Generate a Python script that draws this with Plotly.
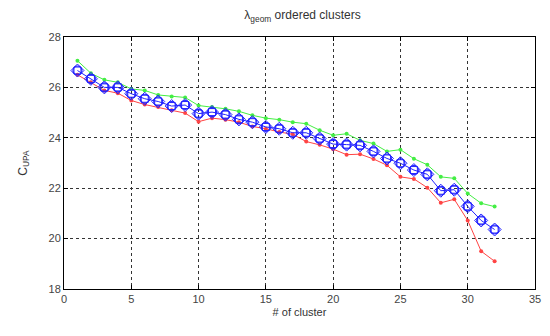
import plotly.graph_objects as go

clusters = list(range(1, 33))
blue_vals = [26.67, 26.34, 26.0, 26.0, 25.75, 25.55, 25.44, 25.26, 25.3, 24.96,
             25.02, 24.92, 24.73, 24.62, 24.43, 24.36, 24.2, 24.2, 23.97, 23.75,
             23.73, 23.7, 23.46, 23.18, 22.99, 22.72, 22.55, 21.9, 21.94, 21.28,
             20.72, 20.36]
green_vals = [27.06, 26.56, 26.3, 26.2, 25.94, 25.88, 25.7, 25.64, 25.6, 25.28,
              25.22, 25.15, 25.05, 24.89, 24.78, 24.72, 24.62, 24.56, 24.3, 24.1,
              24.16, 23.9, 23.77, 23.46, 23.53, 23.17, 22.93, 22.45, 22.39, 21.79,
              21.4, 21.27]
red_vals = [26.5, 26.2, 25.88, 25.77, 25.48, 25.32, 25.22, 25.09, 24.98, 24.64,
            24.78, 24.72, 24.62, 24.45, 24.36, 24.23, 24.14, 23.85, 23.72, 23.55,
            23.33, 23.35, 23.16, 22.91, 22.45, 22.37, 22.02, 21.42, 21.56, 20.72,
            19.5, 19.1]
x_ticks = [0, 5, 10, 15, 20, 25, 30, 35]
y_ticks = [18, 20, 22, 24, 26, 28]

fig = go.Figure()
fig.add_trace(go.Scatter(x=clusters, y=green_vals, mode="lines+markers",
                         line=dict(color="#44ee44", width=1),
                         marker=dict(symbol="circle", size=4, color="#44ee44")))
fig.add_trace(go.Scatter(x=clusters, y=red_vals, mode="lines+markers",
                         line=dict(color="#ff4444", width=1),
                         marker=dict(symbol="circle", size=4, color="#ff4444")))
fig.add_trace(go.Scatter(x=clusters, y=blue_vals, mode="lines+markers",
                         line=dict(color="#2222ff", width=1),
                         marker=dict(symbol="circle-open", size=9, color="#2222ff",
                                     line=dict(width=1.1))))
fig.add_trace(go.Scatter(x=clusters, y=blue_vals, mode="markers",
                         marker=dict(symbol="square-open", size=7, color="#2222ff",
                                     line=dict(width=1))))
fig.add_trace(go.Scatter(x=clusters, y=blue_vals, mode="markers",
                         marker=dict(symbol="diamond-open", size=10, color="#2222ff",
                                     line=dict(width=1))))

axis_common = dict(showline=True, linecolor="black", linewidth=1, mirror="allticks",
                   ticks="inside", ticklen=4, tickcolor="black",
                   showgrid=True, gridcolor="#333333", griddash="3px,3px", gridwidth=1,
                   zeroline=False, tickfont=dict(family="Liberation Sans, Arial", size=11, color="#444"))

fig.update_layout(
    width=550, height=336,
    margin=dict(l=64, r=9, t=37, b=47),
    plot_bgcolor="white", paper_bgcolor="white",
    showlegend=False,
    title=dict(text="λ<sub>geom</sub> ordered clusters", x=0.55, xanchor="center",
               y=0.955, yanchor="middle",
               font=dict(family="Liberation Sans, Arial", size=12, color="#333")),
    xaxis=dict(range=[0, 35], tickvals=x_ticks,
               title=dict(text="# of cluster", standoff=4,
                          font=dict(family="Liberation Sans, Arial", size=11, color="#333")),
               **axis_common),
    yaxis=dict(range=[18, 28], tickvals=y_ticks,
               title=dict(text="C<sub>UPA</sub>", standoff=18,
                          font=dict(family="Liberation Sans, Arial", size=12, color="#333")),
               **axis_common),
)

fig.write_html("out.html")
